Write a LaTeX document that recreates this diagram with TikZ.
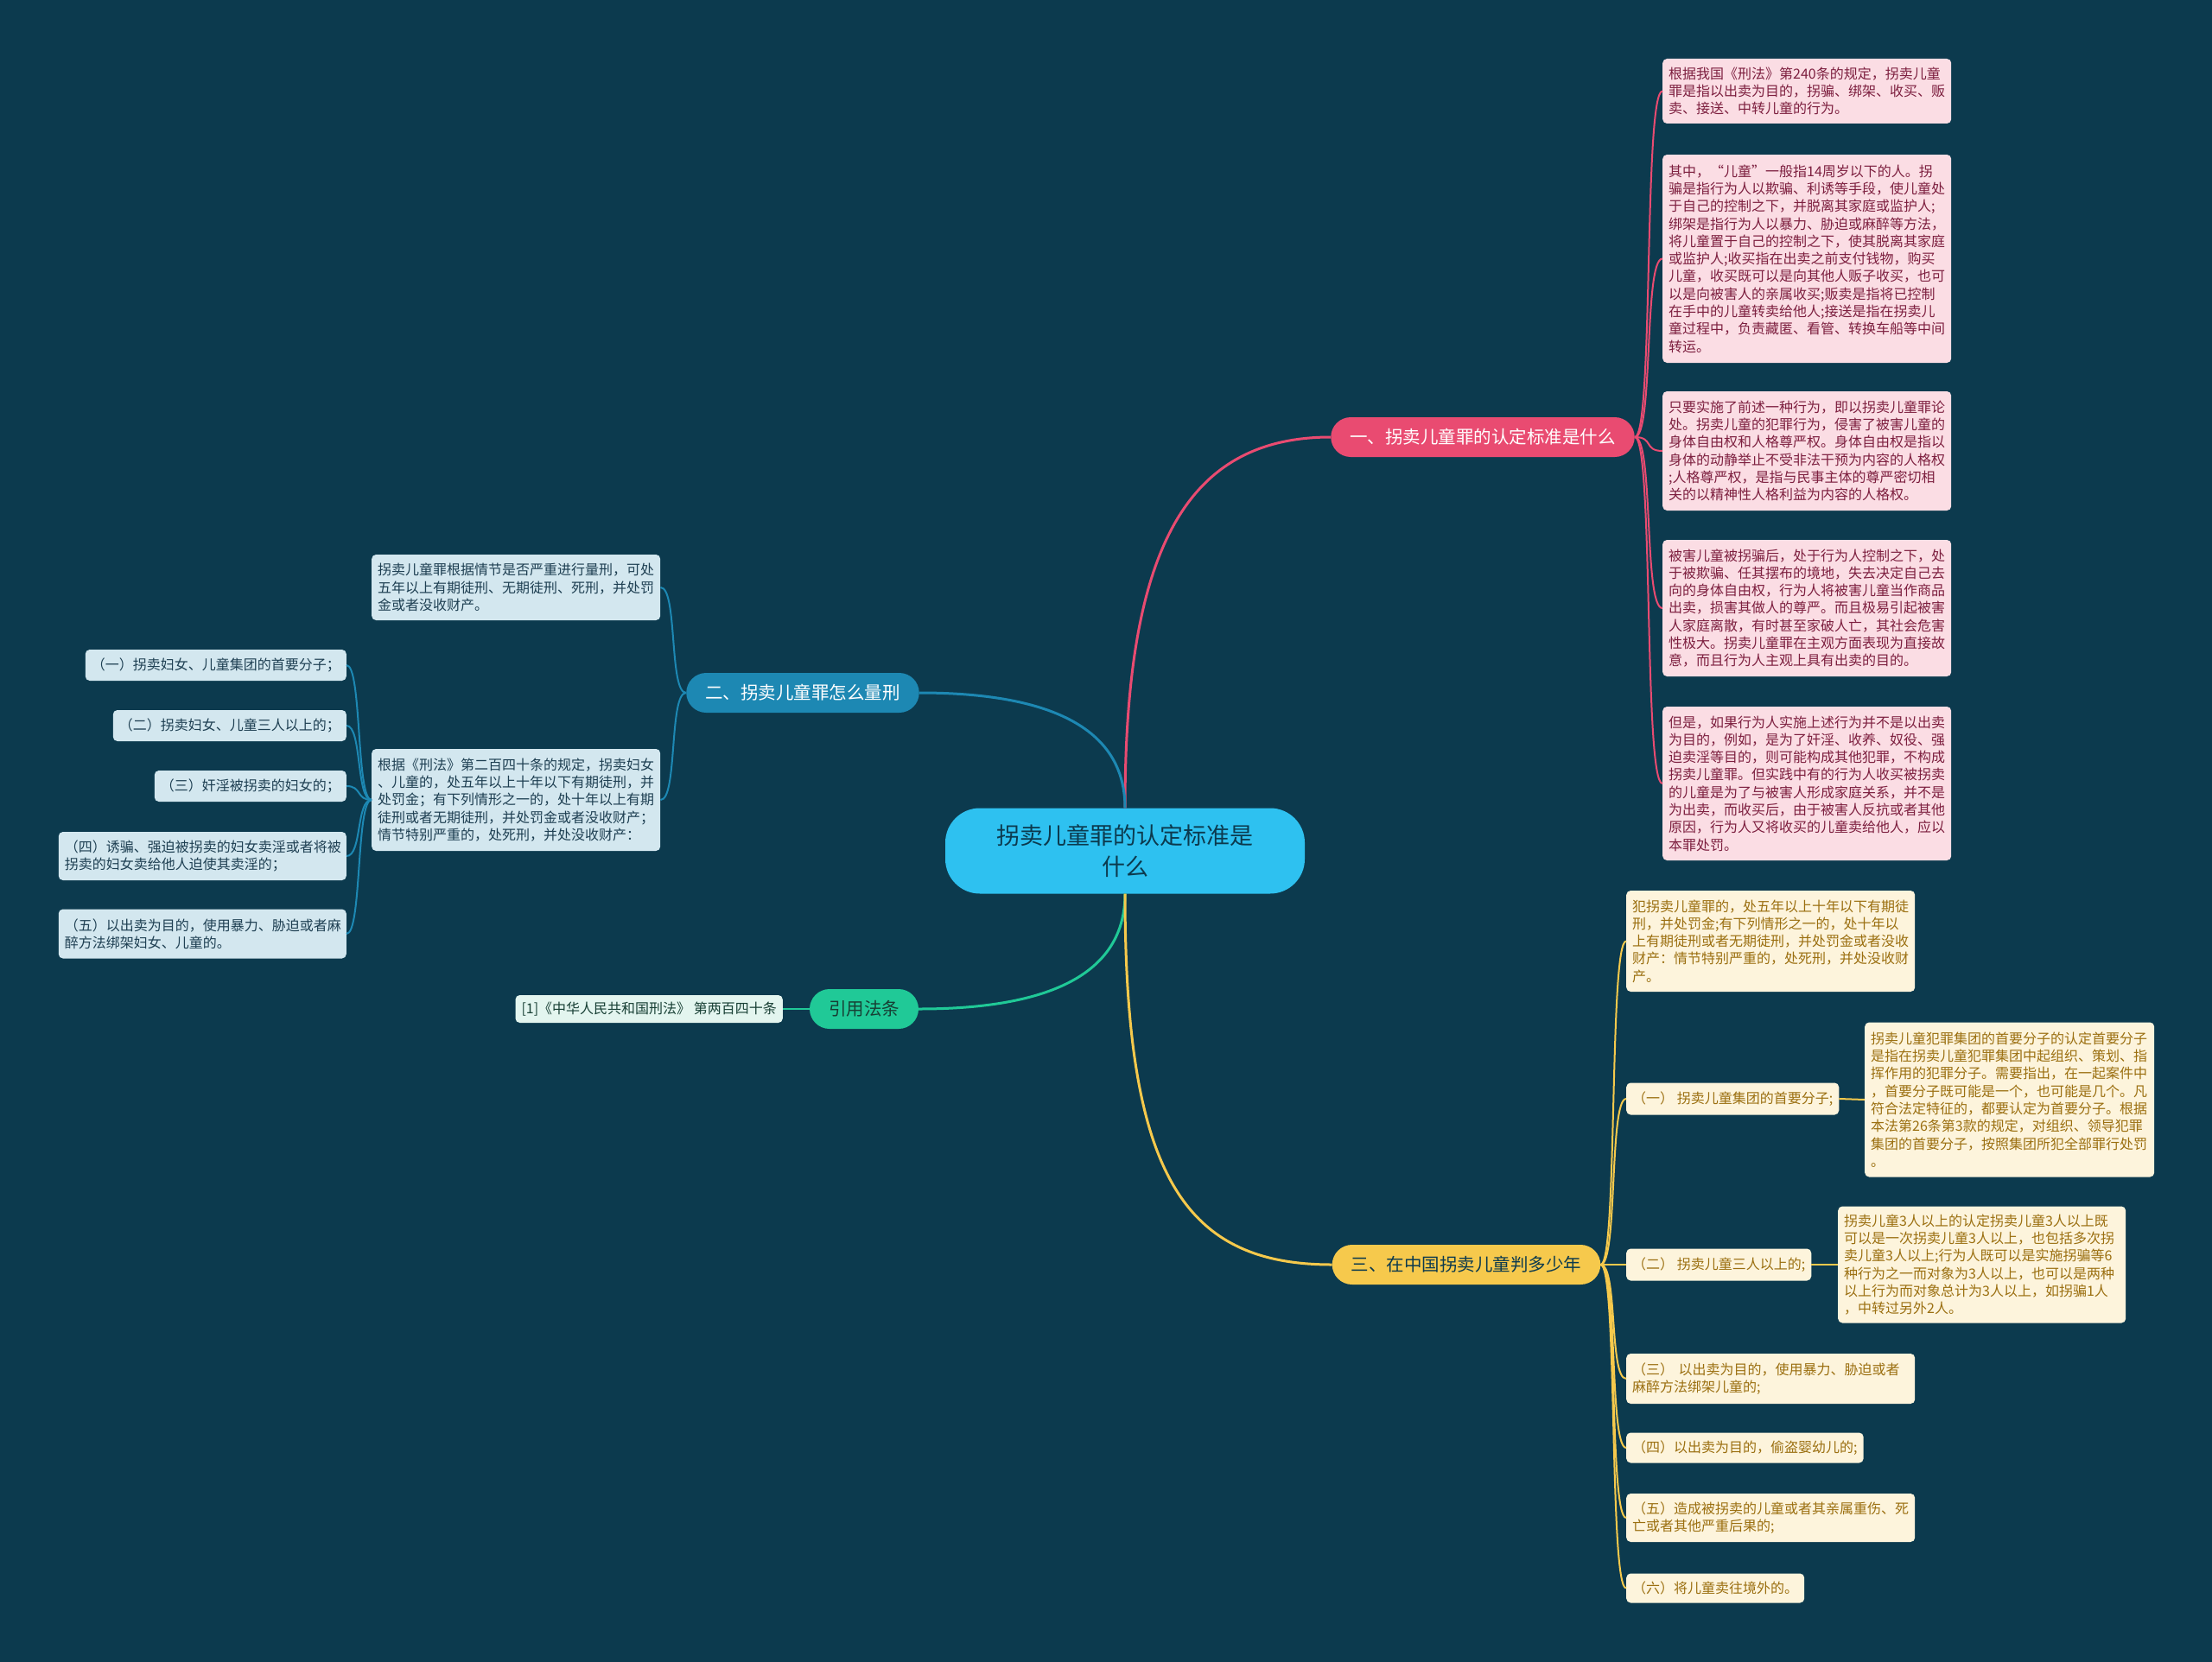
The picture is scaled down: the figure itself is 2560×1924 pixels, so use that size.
\documentclass[tikz,border=0pt]{standalone}
\usepackage{fontspec}
\setmainfont{Noto Sans CJK SC}
\definecolor{bg}{HTML}{0C3A4E}
\definecolor{cfill}{HTML}{2EC1F0}
\definecolor{ctext}{HTML}{0C3A4E}
\definecolor{pbranch}{HTML}{E94B71}
\definecolor{pleaf}{HTML}{FBDDE4}
\definecolor{ptext}{HTML}{7D1F3F}
\definecolor{bbranch}{HTML}{1D88B3}
\definecolor{bleaf}{HTML}{D3E7EF}
\definecolor{btext}{HTML}{1E3F52}
\definecolor{gbranch}{HTML}{20C997}
\definecolor{gleaf}{HTML}{E3F5EF}
\definecolor{gtext}{HTML}{173F34}
\definecolor{ybranch}{HTML}{F6C94C}
\definecolor{yleaf}{HTML}{FDF4DC}
\definecolor{ytext}{HTML}{9B6F10}
\tikzset{
  centernode/.style={fill=cfill, text=ctext, rounded corners=40pt, minimum width=416pt, minimum height=99pt, align=center, font=\fontsize{27}{36}\selectfont},
  branchnode/.style={rounded corners=23pt, minimum height=46pt, inner xsep=22pt, font=\fontsize{20.5}{24}\selectfont},
  leaf/.style={rounded corners=5pt, inner xsep=7pt, inner ysep=6pt, align=left, font=\fontsize{16}{20.3}\selectfont},
  pinkleaf/.style={leaf, fill=pleaf, text=ptext, text width=320pt},
  blueleaf/.style={leaf, fill=bleaf, text=btext},
  yellowleaf/.style={leaf, fill=yleaf, text=ytext},
  greenleaf/.style={leaf, fill=gleaf, text=gtext},
  mainline/.style={line width=3pt},
  subline/.style={line width=2pt},
}
\begin{document}
\begin{tikzpicture}[x=1pt,y=-1pt]
\fill[bg] (0,0) rectangle (2560,1924);
\useasboundingbox (0,0) rectangle (2560,1924);

% center and branches
\node[centernode] (c) at (1302,985) {拐卖儿童罪的认定标准是\\什么};
\node[branchnode, fill=pbranch, text=white] (b1) at (1716,506) {一、拐卖儿童罪的认定标准是什么};
\node[branchnode, fill=bbranch, text=white] (b2) at (929,802) {二、拐卖儿童罪怎么量刑};
\node[branchnode, fill=gbranch, text=gtext] (b3) at (1000,1168) {引用法条};
\node[branchnode, fill=ybranch, text=ctext] (b4) at (1697,1464) {三、在中国拐卖儿童判多少年};

\draw[mainline, pbranch] (c.north) .. controls (1302,640) and (1370,506) .. (b1.west);
\draw[mainline, bbranch] (c.north) .. controls (1302,840) and (1210,802) .. (b2.east);
\draw[mainline, gbranch] (c.south) .. controls (1302,1130) and (1210,1168) .. (b3.east);
\draw[mainline, ybranch] (c.south) .. controls (1302,1360) and (1370,1464) .. (b4.west);

% pink leaves
\node[pinkleaf, anchor=west, minimum height=75pt] (p1) at (1924,105.5) {根据我国《刑法》第240条的规定，拐卖儿童\\罪是指以出卖为目的，拐骗、绑架、收买、贩\\卖、接送、中转儿童的行为。};
\node[pinkleaf, anchor=west, minimum height=241pt] (p2) at (1924,299.5) {其中，“儿童”一般指14周岁以下的人。拐\\骗是指行为人以欺骗、利诱等手段，使儿童处\\于自己的控制之下，并脱离其家庭或监护人;\\绑架是指行为人以暴力、胁迫或麻醉等方法，\\将儿童置于自己的控制之下，使其脱离其家庭\\或监护人;收买指在出卖之前支付钱物，购买\\儿童，收买既可以是向其他人贩子收买，也可\\以是向被害人的亲属收买;贩卖是指将已控制\\在手中的儿童转卖给他人;接送是指在拐卖儿\\童过程中，负责藏匿、看管、转换车船等中间\\转运。};
\node[pinkleaf, anchor=west, minimum height=138pt] (p3) at (1924,522) {只要实施了前述一种行为，即以拐卖儿童罪论\\处。拐卖儿童的犯罪行为，侵害了被害儿童的\\身体自由权和人格尊严权。身体自由权是指以\\身体的动静举止不受非法干预为内容的人格权\\;人格尊严权，是指与民事主体的尊严密切相\\关的以精神性人格利益为内容的人格权。};
\node[pinkleaf, anchor=west, minimum height=158pt] (p4) at (1924,704) {被害儿童被拐骗后，处于行为人控制之下，处\\于被欺骗、任其摆布的境地，失去决定自己去\\向的身体自由权，行为人将被害儿童当作商品\\出卖，损害其做人的尊严。而且极易引起被害\\人家庭离散，有时甚至家破人亡，其社会危害\\性极大。拐卖儿童罪在主观方面表现为直接故\\意，而且行为人主观上具有出卖的目的。};
\node[pinkleaf, anchor=west, minimum height=178pt] (p5) at (1924,907) {但是，如果行为人实施上述行为并不是以出卖\\为目的，例如，是为了奸淫、收养、奴役、强\\迫卖淫等目的，则可能构成其他犯罪，不构成\\拐卖儿童罪。但实践中有的行为人收买被拐卖\\的儿童是为了与被害人形成家庭关系，并不是\\为出卖，而收买后，由于被害人反抗或者其他\\原因，行为人又将收买的儿童卖给他人，应以\\本罪处罚。};
\foreach \n in {p1,p2,p3,p4,p5}
  \draw[subline, pbranch] (b1.east) .. controls +(22,0) and +(-22,0) .. (\n.west);

% yellow leaves
\node[yellowleaf, text width=320pt, anchor=west, minimum height=117pt] (y1) at (1882,1089.5) {犯拐卖儿童罪的，处五年以上十年以下有期徒\\刑，并处罚金;有下列情形之一的，处十年以\\上有期徒刑或者无期徒刑，并处罚金或者没收\\财产：情节特别严重的，处死刑，并处没收财\\产。};
\node[yellowleaf, anchor=west, minimum height=37pt] (y2) at (1882,1272) {（一） 拐卖儿童集团的首要分子;};
\node[yellowleaf, text width=321pt, anchor=west, minimum height=179pt] (y2d) at (2158,1273) {拐卖儿童犯罪集团的首要分子的认定首要分子\\是指在拐卖儿童犯罪集团中起组织、策划、指\\挥作用的犯罪分子。需要指出，在一起案件中\\，首要分子既可能是一个，也可能是几个。凡\\符合法定特征的，都要认定为首要分子。根据\\本法第26条第3款的规定，对组织、领导犯罪\\集团的首要分子，按照集团所犯全部罪行处罚\\。};
\node[yellowleaf, anchor=west, minimum height=37pt] (y3) at (1882,1464) {（二） 拐卖儿童三人以上的;};
\node[yellowleaf, text width=319pt, anchor=west, minimum height=135pt] (y3d) at (2127,1464) {拐卖儿童3人以上的认定拐卖儿童3人以上既\\可以是一次拐卖儿童3人以上，也包括多次拐\\卖儿童3人以上;行为人既可以是实施拐骗等6\\种行为之一而对象为3人以上，也可以是两种\\以上行为而对象总计为3人以上，如拐骗1人\\，中转过另外2人。};
\node[yellowleaf, text width=320pt, anchor=west, minimum height=58pt] (y4) at (1882,1596) {（三） 以出卖为目的，使用暴力、胁迫或者\\麻醉方法绑架儿童的;};
\node[yellowleaf, anchor=west, minimum height=35pt] (y5) at (1882,1676) {（四）以出卖为目的，偷盗婴幼儿的;};
\node[yellowleaf, text width=320pt, anchor=west, minimum height=56pt] (y6) at (1882,1757) {（五）造成被拐卖的儿童或者其亲属重伤、死\\亡或者其他严重后果的;};
\node[yellowleaf, anchor=west, minimum height=34pt] (y7) at (1882,1838.5) {（六）将儿童卖往境外的。};
\foreach \n in {y1,y2,y3,y4,y5,y6,y7}
  \draw[subline, ybranch] (b4.east) .. controls +(20,0) and +(-20,0) .. (\n.west);
\draw[subline, ybranch] (y2.east) -- (y2d.west);
\draw[subline, ybranch] (y3.east) -- (y3d.west);

% blue leaves
\node[blueleaf, text width=320pt, anchor=west, minimum height=76pt] (bl1) at (430,680) {拐卖儿童罪根据情节是否严重进行量刑，可处\\五年以上有期徒刑、无期徒刑、死刑，并处罚\\金或者没收财产。};
\node[blueleaf, text width=320pt, anchor=west, minimum height=118pt] (bl2) at (430,926) {根据《刑法》第二百四十条的规定，拐卖妇女\\、儿童的，处五年以上十年以下有期徒刑，并\\处罚金；有下列情形之一的，处十年以上有期\\徒刑或者无期徒刑，并处罚金或者没收财产；\\情节特别严重的，处死刑，并处没收财产：};
\draw[subline, bbranch] (b2.west) .. controls +(-20,0) and +(20,0) .. (bl1.east);
\draw[subline, bbranch] (b2.west) .. controls +(-20,0) and +(20,0) .. (bl2.east);

\node[blueleaf, anchor=east, minimum height=36pt] (l1) at (401,770) {（一）拐卖妇女、儿童集团的首要分子；};
\node[blueleaf, anchor=east, minimum height=36pt] (l2) at (401,840) {（二）拐卖妇女、儿童三人以上的；};
\node[blueleaf, anchor=east, minimum height=36pt] (l3) at (401,910) {（三）奸淫被拐卖的妇女的；};
\node[blueleaf, text width=319pt, anchor=east, minimum height=56pt] (l4) at (401,991) {（四）诱骗、强迫被拐卖的妇女卖淫或者将被\\拐卖的妇女卖给他人迫使其卖淫的；};
\node[blueleaf, text width=319pt, anchor=east, minimum height=57pt] (l5) at (401,1081) {（五）以出卖为目的，使用暴力、胁迫或者麻\\醉方法绑架妇女、儿童的。};
\foreach \n in {l1,l2,l3,l4,l5}
  \draw[subline, bbranch] (bl2.west) .. controls +(-18,0) and +(18,0) .. (\n.east);

% green leaf
\node[greenleaf, anchor=east, minimum height=32pt] (g1) at (906,1168) {[1]《中华人民共和国刑法》 第两百四十条};
\draw[subline, gbranch] (b3.west) -- (g1.east);
\end{tikzpicture}
\end{document}
